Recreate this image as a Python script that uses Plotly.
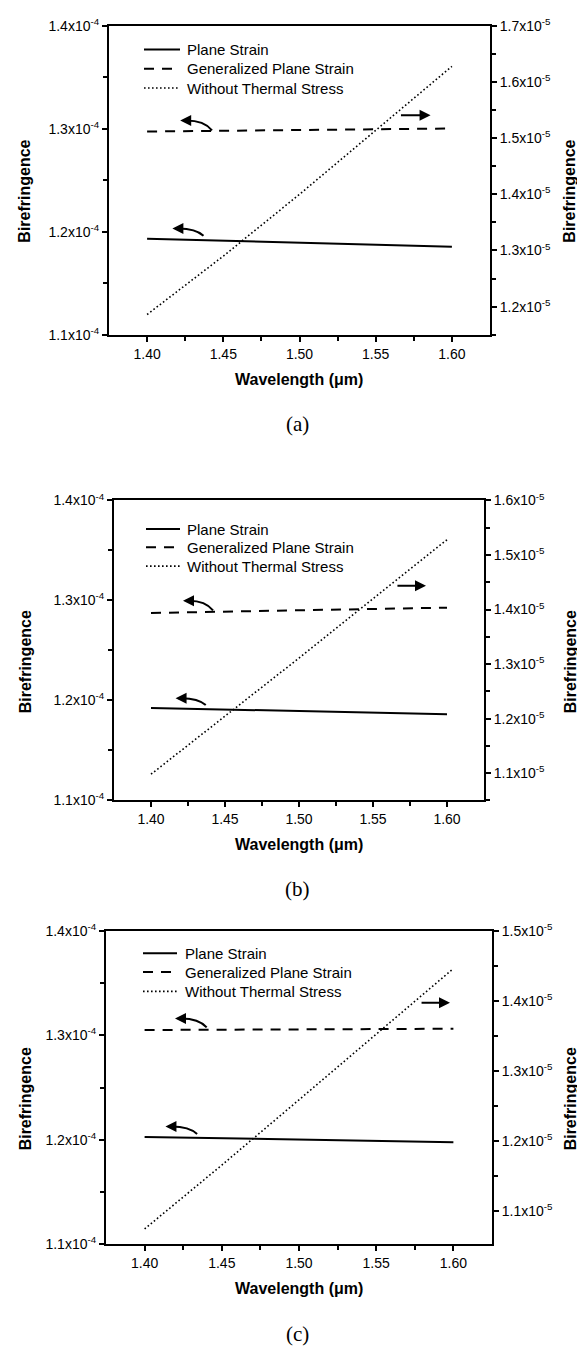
import plotly.graph_objects as go

# page has an 8px body margin: figure is drawn at (8, 8)
OFF = 8
W, H = 585 - OFF, 1356 - OFF

# ---------------- data ----------------
wavelength = [1.40, 1.45, 1.50, 1.55, 1.60]

# panel (a)
plane_a = [1.1932e-4, 1.1913e-4, 1.1894e-4, 1.1875e-4, 1.1855e-4]
gps_a = [1.2974e-4, 1.2982e-4, 1.2989e-4, 1.2996e-4, 1.3003e-4]
wts_a = [1.186e-5, 1.290e-5, 1.400e-5, 1.514e-5, 1.628e-5]

# panel (b)
plane_b = [1.1925e-4, 1.1909e-4, 1.1893e-4, 1.1877e-4, 1.1862e-4]
gps_b = [1.2875e-4, 1.2888e-4, 1.2901e-4, 1.2915e-4, 1.2928e-4]
wts_b = [1.098e-5, 1.204e-5, 1.311e-5, 1.420e-5, 1.528e-5]

# panel (c)
plane_c = [1.2028e-4, 1.2015e-4, 1.2002e-4, 1.1989e-4, 1.1976e-4]
gps_c = [1.3050e-4, 1.3053e-4, 1.3056e-4, 1.3059e-4, 1.3062e-4]
wts_c = [1.075e-5, 1.166e-5, 1.259e-5, 1.352e-5, 1.446e-5]

x_ticks = [1.40, 1.45, 1.50, 1.55, 1.60]
x_ticktext = ["1.40", "1.45", "1.50", "1.55", "1.60"]
left_ticks = [1.1e-4, 1.2e-4, 1.3e-4, 1.4e-4]
left_ticktext = ["1.1x10<sup>-4</sup>", "1.2x10<sup>-4</sup>", "1.3x10<sup>-4</sup>", "1.4x10<sup>-4</sup>"]
right_ticks_a = [1.2e-5, 1.3e-5, 1.4e-5, 1.5e-5, 1.6e-5, 1.7e-5]
right_ticktext_a = ["1.2x10<sup>-5</sup>", "1.3x10<sup>-5</sup>", "1.4x10<sup>-5</sup>", "1.5x10<sup>-5</sup>", "1.6x10<sup>-5</sup>", "1.7x10<sup>-5</sup>"]
right_ticks_b = [1.1e-5, 1.2e-5, 1.3e-5, 1.4e-5, 1.5e-5, 1.6e-5]
right_ticktext_b = ["1.1x10<sup>-5</sup>", "1.2x10<sup>-5</sup>", "1.3x10<sup>-5</sup>", "1.4x10<sup>-5</sup>", "1.5x10<sup>-5</sup>", "1.6x10<sup>-5</sup>"]
right_ticks_c = [1.1e-5, 1.2e-5, 1.3e-5, 1.4e-5, 1.5e-5]
right_ticktext_c = ["1.1x10<sup>-5</sup>", "1.2x10<sup>-5</sup>", "1.3x10<sup>-5</sup>", "1.4x10<sup>-5</sup>", "1.5x10<sup>-5</sup>"]
series_names = ["Plane Strain", "Generalized Plane Strain", "Without Thermal Stress"]
panel_labels = ["(a)", "(b)", "(c)"]
x_title = "Wavelength (\u03bcm)"
y_title = "Birefringence"

# ---------------- layout geometry (page pixels) ----------------
FONT = "Liberation Sans, Arial, sans-serif"
SERIF = "Liberation Serif, Times New Roman, serif"

def PX(px):
    return (px - OFF) / W

def PY(py):
    return 1 - (py - OFF) / H

panels = [
    dict(x0=109, x1=490, y0=16, y1=329, plane=plane_a, gps=gps_a, wts=wts_a,
         rrange=[1.15e-5, 1.70e-5], rt=right_ticks_a, rtt=right_ticktext_a,
         leg_y=[40, 59.5, 79], leg_x=(144, 180, 185),
         title_y=184, label_y=419,
         arr_gps=((1.4426, 1.2985e-4), (1.4217, 1.3080e-4)),
         arr_pl=((1.437, 1.1961e-4), (1.4166, 1.2032e-4)),
         arr_w=((1.5656, 1.5407e-5), (1.586, 1.5407e-5))),
    dict(x0=114, x1=484, y0=497, y1=801, plane=plane_b, gps=gps_b, wts=wts_b,
         rrange=[1.05e-5, 1.60e-5], rt=right_ticks_b, rtt=right_ticktext_b,
         leg_y=[526, 544.5, 563.5], leg_x=(146, 180, 185),
         title_y=661, label_y=891,
         arr_gps=((1.4419, 1.2900e-4), (1.4216, 1.2997e-4)),
         arr_pl=((1.437, 1.1954e-4), (1.4166, 1.2023e-4)),
         arr_w=((1.5655, 1.4434e-5), (1.5858, 1.4434e-5))),
    dict(x0=106, x1=492, y0=933, y1=1251, plane=plane_c, gps=gps_c, wts=wts_c,
         rrange=[1.053e-5, 1.50e-5], rt=right_ticks_c, rtt=right_ticktext_c,
         leg_y=[956, 975, 994.5], leg_x=(143, 177, 183),
         title_y=1104, label_y=1342,
         arr_gps=((1.4402, 1.3075e-4), (1.4197, 1.3160e-4)),
         arr_pl=((1.434, 1.2056e-4), (1.4135, 1.2128e-4)),
         arr_w=((1.5784, 1.3972e-5), (1.5978, 1.3972e-5))),
]

fig = go.Figure()
shapes = []
annotations = []

line_styles = [
    dict(color="black", width=2, dash="solid"),
    dict(color="black", width=2, dash="10px,8px"),
    dict(color="black", width=1.6, dash="1.6px,2.4px"),
]

for i, p in enumerate(panels):
    k = i + 1
    xa = "x" if k == 1 else f"x{k}"
    yl = "y" if k == 1 else f"y{k}"
    yr = f"y{k + 3}"
    xkey = "xaxis" if k == 1 else f"xaxis{k}"
    ylkey = "yaxis" if k == 1 else f"yaxis{k}"
    yrkey = f"yaxis{k + 3}"

    fig.add_trace(go.Scatter(x=wavelength, y=p["plane"], mode="lines", line=line_styles[0],
                             xaxis=xa, yaxis=yl, showlegend=False, name=series_names[0]))
    fig.add_trace(go.Scatter(x=wavelength, y=p["gps"], mode="lines", line=line_styles[1],
                             xaxis=xa, yaxis=yl, showlegend=False, name=series_names[1]))
    fig.add_trace(go.Scatter(x=wavelength, y=p["wts"], mode="lines", line=line_styles[2],
                             xaxis=xa, yaxis=yr, showlegend=False, name=series_names[2]))

    dom_x = [PX(p["x0"]), PX(p["x1"])]
    dom_y = [PY(p["y1"]), PY(p["y0"])]
    tickfont = dict(family=FONT, size=14, color="black")

    fig.layout[xkey] = dict(
        domain=dom_x, anchor=yl, range=[1.375, 1.625],
        tickmode="array", tickvals=x_ticks, ticktext=x_ticktext,
        ticks="outside", ticklen=5, tickwidth=1.5, tickcolor="black",
        minor=dict(tickmode="array", tickvals=[1.425, 1.475, 1.525, 1.575],
                   ticks="outside", ticklen=4, tickwidth=1.5, tickcolor="black"),
        showline=True, linewidth=2, linecolor="black", mirror=True,
        showgrid=False, zeroline=False, tickfont=tickfont, fixedrange=True,
    )
    fig.layout[ylkey] = dict(
        domain=dom_y, anchor=xa, range=[1.1e-4, 1.4e-4],
        tickmode="array", tickvals=left_ticks, ticktext=left_ticktext,
        ticks="outside", ticklen=5, tickwidth=1.5, tickcolor="black",
        minor=dict(tickmode="array", tickvals=[1.15e-4, 1.25e-4, 1.35e-4],
                   ticks="outside", ticklen=4, tickwidth=1.5, tickcolor="black"),
        showline=True, linewidth=2, linecolor="black",
        showgrid=False, zeroline=False, tickfont=tickfont, fixedrange=True,
    )
    rminor = [v + 0.5e-6 for v in p["rt"]] + [p["rt"][0] - 0.5e-6]
    rminor = [v for v in rminor if p["rrange"][0] <= v <= p["rrange"][1]]
    fig.layout[yrkey] = dict(
        overlaying=yl, side="right", anchor=xa, range=p["rrange"],
        tickmode="array", tickvals=p["rt"], ticktext=p["rtt"],
        ticks="outside", ticklen=5, tickwidth=1.5, tickcolor="black",
        minor=dict(tickmode="array", tickvals=rminor,
                   ticks="outside", ticklen=4, tickwidth=1.5, tickcolor="black"),
        showline=True, linewidth=2, linecolor="black",
        showgrid=False, zeroline=False, tickfont=tickfont, fixedrange=True,
    )

    # legend (manual)
    lx0, lx1, tx = p["leg_x"]
    for j in range(3):
        ly = p["leg_y"][j]
        st = line_styles[j]
        shapes.append(dict(type="line", xref="paper", yref="paper",
                           x0=PX(lx0), x1=PX(lx1), y0=PY(ly), y1=PY(ly),
                           line=dict(color="black", width=st["width"], dash=st["dash"])))
        annotations.append(dict(xref="paper", yref="paper", x=PX(tx), y=PY(ly),
                                xanchor="left", yanchor="middle", showarrow=False,
                                text=series_names[j],
                                font=dict(family=FONT, size=15, color="black")))

    # curved arrows (left axis)
    for (tail, head) in (p["arr_gps"], p["arr_pl"]):
        (tx0, ty0), (hx, hy) = tail, head
        cx = tx0 - 0.25 * (tx0 - hx)
        cy = hy
        shapes.append(dict(type="path", xref=xa, yref=yl,
                           path=f"M {tx0},{ty0} Q {cx},{cy} {hx + 0.004},{hy}",
                           line=dict(color="black", width=2)))
        annotations.append(dict(xref=xa, yref=yl, x=hx, y=hy, ax=8, ay=0,
                                showarrow=True, arrowhead=2, arrowsize=1.1,
                                arrowwidth=2, arrowcolor="black", text=""))
    # straight arrow (right axis)
    (tx0, ty0), (hx, hy) = p["arr_w"]
    annotations.append(dict(xref=xa, yref=yr, x=hx, y=hy, ax=tx0, ay=ty0,
                            axref=xa, ayref=yr, showarrow=True, arrowhead=2,
                            arrowsize=1.1, arrowwidth=2, arrowcolor="black", text=""))

    # axis titles
    title_font = dict(family=FONT, size=16, color="black")
    annotations.append(dict(xref="paper", yref="paper", x=PX(25), y=PY(p["title_y"]),
                            text=f"<b>{y_title}</b>", textangle=-90, showarrow=False,
                            xanchor="center", yanchor="middle", font=title_font))
    annotations.append(dict(xref="paper", yref="paper", x=PX(570), y=PY(p["title_y"]),
                            text=f"<b>{y_title}</b>", textangle=-90, showarrow=False,
                            xanchor="center", yanchor="middle", font=title_font))
    annotations.append(dict(xref="paper", yref="paper", x=PX(299), y=PY(p["y1"] + 45),
                            text=f"<b>{x_title}</b>", showarrow=False,
                            xanchor="center", yanchor="middle", font=title_font))
    annotations.append(dict(xref="paper", yref="paper", x=PX(297), y=PY(p["label_y"]),
                            text=panel_labels[i], showarrow=False,
                            xanchor="center", yanchor="middle",
                            font=dict(family=SERIF, size=21, color="black")))

fig.update_layout(
    width=W, height=H,
    margin=dict(l=0, r=0, t=0, b=0),
    paper_bgcolor="white", plot_bgcolor="white",
    shapes=shapes, annotations=annotations, showlegend=False,
)

fig.write_html("out.html")
